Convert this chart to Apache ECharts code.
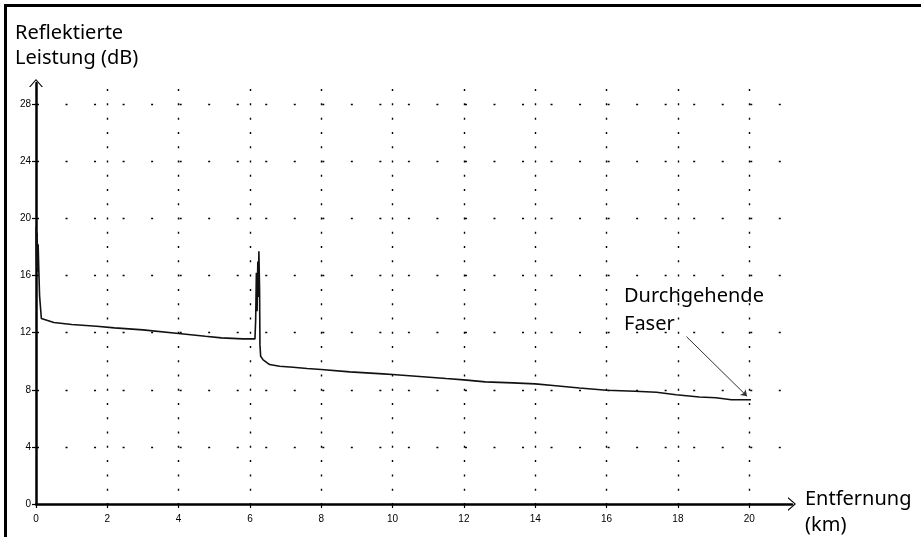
<!DOCTYPE html>
<html>
<head>
<meta charset="utf-8">
<title>Reflektierte Leistung</title>
<script src="https://cdn.jsdelivr.net/npm/echarts@6/dist/echarts.min.js"></script>
<style>
    html, body { margin: 0; padding: 0; background: #fff; }
    #chart { width: 921px; height: 537px; }
</style>
</head>
<body>
<div id="chart"></div>
<script>
// Entfernung (km)
var distance = [0, 0.02, 0.03, 0.05, 0.06, 0.08, 0.1, 0.14, 0.15, 0.2, 0.5, 1.0, 1.7, 2.2,
    3.0, 4.0, 4.75, 5.2, 5.8, 6.14, 6.16, 6.18, 6.2, 6.22, 6.24, 6.25, 6.27, 6.28, 6.3,
    6.37, 6.55, 6.83, 7.21, 7.6, 8.0, 8.8, 9.73, 10.0, 10.66, 11.5, 12.0, 12.6, 13.37,
    14.0, 14.5, 15.24, 16.0, 16.8, 17.4, 17.95, 18.6, 19.07, 19.5, 20.05];
// Reflektierte Leistung (dB)
var power = [19.4, 16.5, 19.0, 16.3, 18.2, 16.3, 14.6, 14.5, 13.0, 12.92, 12.72, 12.58, 12.45, 12.34,
    12.2, 11.95, 11.75, 11.64, 11.57, 11.57, 12.9, 16.2, 13.5, 17.0, 14.5, 17.71, 15.0, 11.15, 10.35,
    10.1, 9.77, 9.65, 9.58, 9.49, 9.42, 9.26, 9.12, 9.07, 8.95, 8.79, 8.7, 8.56, 8.49,
    8.42, 8.3, 8.13, 7.97, 7.9, 7.83, 7.66, 7.5, 7.45, 7.31, 7.3];

var xTicks = [0, 2, 4, 6, 8, 10, 12, 14, 16, 18, 20];
var yTicks = [0, 4, 8, 12, 16, 20, 24, 28];

var noteText = ['Durchgehende', 'Faser'];
var noteFrom = [18.24, 11.73];
var noteTo = [19.94, 7.55];

var lineData = [];
for (var i = 0; i < distance.length; i++) {
    lineData.push([distance[i], power[i]]);
}

// offene Pfeilspitze wie im Original
var chevron = 'path://M7,0 L14,8 L12.6,8 L7,1.6 L1.4,8 L0,8 Z';
var labelFont = { fontFamily: 'Liberation Sans', fontSize: 10, color: '#000' };
var bigFont = '20px "Noto Sans"';

var myChart = echarts.init(document.getElementById('chart'));
myChart.setOption({
    animation: false,
    backgroundColor: '#fff',
    grid: { left: 36, right: 129, top: 83, bottom: 33, containLabel: false },
    xAxis: {
        type: 'value',
        min: 0,
        max: 21.2,
        interval: 2,
        axisLine: {
            show: true,
            symbol: ['none', chevron],
            symbolSize: [14, 8],
            lineStyle: { color: '#000', width: 2.5 }
        },
        axisTick: { show: true, length: 4, customValues: xTicks, lineStyle: { color: '#000', width: 1.2 } },
        axisLabel: Object.assign({ margin: 10, customValues: xTicks }, labelFont),
        splitLine: {
            show: true,
            showMinLine: false,
            lineStyle: { color: '#000', width: 1.4, type: [2, 12.27], dashOffset: 8.17 }
        }
    },
    yAxis: {
        type: 'value',
        min: 0,
        max: 29.5,
        interval: 4,
        axisLine: {
            show: true,
            symbol: ['none', chevron],
            symbolSize: [14, 8],
            lineStyle: { color: '#000', width: 2.5 }
        },
        axisTick: { show: true, length: 4, customValues: yTicks, lineStyle: { color: '#000', width: 1.2 } },
        axisLabel: Object.assign({ margin: 5, customValues: yTicks }, labelFont),
        splitLine: {
            show: true,
            showMinLine: false,
            lineStyle: { color: '#000', width: 1.4, type: [2, 26.53], dashOffset: 27.53 }
        }
    },
    series: [{
        type: 'line',
        data: lineData,
        showSymbol: false,
        lineStyle: { color: '#111', width: 1.6 },
        markLine: {
            silent: true,
            symbol: ['none', 'arrow'],
            symbolSize: 6,
            label: { show: false },
            lineStyle: { color: '#333', width: 1, type: 'solid' },
            data: [[{ coord: noteFrom }, { coord: noteTo }]]
        }
    }],
    graphic: [
        // Rahmen oben und links
        { type: 'rect', left: 4, top: 4, shape: { width: 917, height: 3 }, style: { fill: '#000' } },
        { type: 'rect', left: 4, top: 4, shape: { width: 3, height: 533 }, style: { fill: '#000' } },
        { type: 'text', x: 15, y: 23, style: { text: 'Reflektierte', font: bigFont, fill: '#000', verticalAlign: 'top' } },
        { type: 'text', x: 15, y: 48, style: { text: 'Leistung (dB)', font: bigFont, fill: '#000', verticalAlign: 'top' } },
        { type: 'text', x: 805, y: 489, style: { text: 'Entfernung', font: bigFont, fill: '#000', verticalAlign: 'top' } },
        { type: 'text', x: 805, y: 515, style: { text: '(km)', font: bigFont, fill: '#000', verticalAlign: 'top' } },
        { type: 'text', x: 624, y: 286, style: { text: noteText[0], font: bigFont, fill: '#000', verticalAlign: 'top' } },
        { type: 'text', x: 624, y: 314, style: { text: noteText[1], font: bigFont, fill: '#000', verticalAlign: 'top' } }
    ]
});
</script>
</body>
</html>
